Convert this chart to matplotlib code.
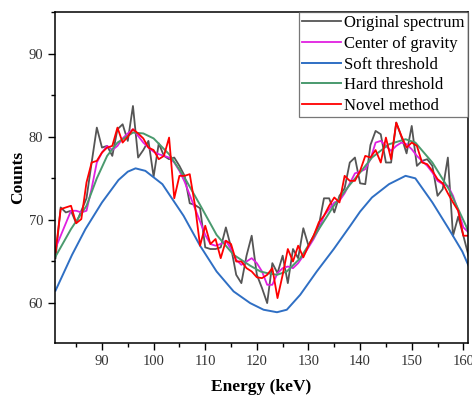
import matplotlib
matplotlib.use("Agg")
import matplotlib.pyplot as plt
from matplotlib.ticker import MultipleLocator

plt.rcParams['font.family'] = ['Liberation Serif', 'DejaVu Serif']

energy = list(range(81, 162))

original = [65.4, 71.5, 70.9, 71.1, 69.6, 71.1, 72.6, 76.9, 81.1, 78.7,
            78.9, 77.7, 80.9, 81.5, 79.5, 83.7, 77.5, 78.4, 79.5, 75.2,
            79.2, 77.7, 77.3, 77.5, 76.5, 75.3, 72.0, 71.8, 71.4, 66.7,
            66.5, 66.5, 66.7, 69.1, 66.7, 63.4, 62.4, 65.7, 68.1, 63.4,
            61.8, 60.0, 64.8, 63.6, 65.7, 62.4, 66.5, 65.4, 69.0, 66.9,
            68.1, 69.3, 72.6, 72.6, 70.9, 72.9, 73.8, 76.9, 77.5, 74.4,
            74.3, 79.0, 80.7, 80.3, 76.9, 76.9, 81.7, 80.0, 78.0, 81.3,
            76.5, 77.1, 77.3, 76.5, 72.9, 73.7, 77.5, 68.1, 70.4, 68.1,
            65.7]

center_gravity = [66.6, 68.1, 69.6, 71.1, 71.1, 70.9, 71.1, 73.8, 76.9, 78.1,
                  78.9, 78.4, 78.9, 79.8, 80.4, 80.9, 80.1, 79.3, 78.7, 78.2,
                  77.9, 77.7, 77.5, 76.9, 75.9, 74.6, 73.0, 71.4, 69.8, 68.2,
                  67.1, 66.9, 67.1, 67.5, 66.5, 65.2, 64.6, 65.0, 65.4, 64.8,
                  63.8, 62.2, 62.2, 63.6, 64.2, 64.4, 64.2, 64.8, 65.7, 66.7,
                  67.7, 68.9, 70.5, 71.3, 72.1, 72.3, 73.2, 74.4, 75.6, 75.8,
                  76.1, 77.3, 79.3, 79.5, 78.9, 78.3, 78.9, 79.3, 79.1, 78.5,
                  77.7, 77.1, 76.5, 75.7, 74.7, 74.3, 74.1, 72.9, 71.1, 69.1,
                  68.5]

novel = [66.1, 71.3, 71.5, 71.7, 69.6, 70.1, 74.5, 76.9, 77.1, 78.1,
         78.7, 78.9, 81.1, 79.3, 80.0, 80.9, 80.4, 79.8, 78.7, 78.4,
         77.3, 77.7, 79.9, 72.6, 75.3, 75.3, 75.5, 71.8, 66.9, 69.3,
         67.1, 67.7, 65.4, 67.5, 67.1, 65.0, 65.0, 64.2, 63.8, 63.1,
         63.0, 63.4, 64.2, 60.6, 63.4, 66.5, 65.0, 66.9, 65.5, 66.9,
         68.1, 69.7, 70.5, 71.7, 72.7, 72.1, 75.3, 74.7, 74.7, 75.9,
         77.7, 77.5, 78.4, 76.9, 79.9, 77.3, 81.7, 80.1, 78.7, 79.3,
         78.9, 76.9, 76.7, 75.9, 74.9, 74.4, 73.2, 72.1, 71.1, 68.1,
         68.1]

hard_x = [81, 84, 87, 89, 91, 93, 96, 98, 100, 103, 105.8, 109, 112.2,
          115.5, 118.7, 120.7, 122, 123.9, 125.8, 128.4, 131.6, 134.9,
          138.1, 140, 142.3, 145.6, 148.8, 150.7, 154, 157.2, 160.5, 161]
hard = [65.6, 68.9, 71.7, 75.0, 77.7, 79.3, 80.5, 80.4, 79.8, 77.9, 75.3,
        71.8, 68.2, 65.8, 64.5, 63.8, 63.6, 63.4, 63.8, 65.4, 68.5, 71.7,
        74.3, 75.7, 77.5, 79.1, 79.7, 79.3, 76.9, 73.7, 69.3, 68.5]

soft_x = [81, 84.2, 86.8, 90, 93.2, 95, 96.5, 98.4, 101.7, 105.8, 109,
          112.2, 115.5, 118.7, 121.3, 123.9, 125.8, 128.4, 131.6, 134.9,
          138.1, 140, 142.3, 145.6, 148.8, 150.7, 154, 157.2, 159.8, 161]
soft = [61.5, 65.8, 68.9, 72.1, 74.8, 75.8, 76.2, 75.9, 74.3, 70.5, 66.9,
        63.8, 61.4, 60.0, 59.2, 58.9, 59.2, 61.0, 63.8, 66.5, 69.3, 71.0,
        72.7, 74.3, 75.3, 75.0, 72.1, 68.9, 66.2, 64.5]

fig = plt.figure(figsize=(4.72, 3.98), dpi=100)
ax = fig.add_axes([55 / 472, (398 - 343) / 398, (468 - 55) / 472, (343 - 12) / 398])

ax.plot(energy, original, color='#555555', lw=1.3, label='Original spectrum')
ax.plot(energy, center_gravity, color='#e020e0', lw=1.3, label='Center of gravity')
ax.plot(soft_x, soft, color='#2f6fc4', lw=1.4, label='Soft threshold')
ax.plot(hard_x, hard, color='#4a9a6e', lw=1.4, label='Hard threshold')
ax.plot(energy, novel, color='#ff0000', lw=1.3, label='Novel method')

ax.set_xlim(80.9, 160.9)
ax.set_ylim(55.2, 95)
ax.xaxis.set_major_locator(MultipleLocator(10))
ax.xaxis.set_minor_locator(MultipleLocator(5))
ax.yaxis.set_major_locator(MultipleLocator(10))
ax.yaxis.set_minor_locator(MultipleLocator(5))
ax.tick_params(which='major', direction='out', length=5, width=1, labelsize=10.5,
               colors='black', labelcolor='#333333')
ax.tick_params(which='minor', direction='out', length=3, width=1)
for s in ax.spines.values():
    s.set_linewidth(1.1)

ax.set_xlabel('Energy (keV)', fontsize=12.5, fontweight='bold', labelpad=8)
ax.set_ylabel('Counts', fontsize=12.5, fontweight='bold', labelpad=2)

leg = ax.legend(loc='upper right', fontsize=12, frameon=True, fancybox=False,
                borderaxespad=0, handlelength=2.3, handletextpad=0.2,
                labelspacing=0.28, borderpad=0.2)
leg.get_frame().set_edgecolor('#555555')
leg.get_frame().set_linewidth(0.9)

fig.savefig('out.png', dpi=100)
